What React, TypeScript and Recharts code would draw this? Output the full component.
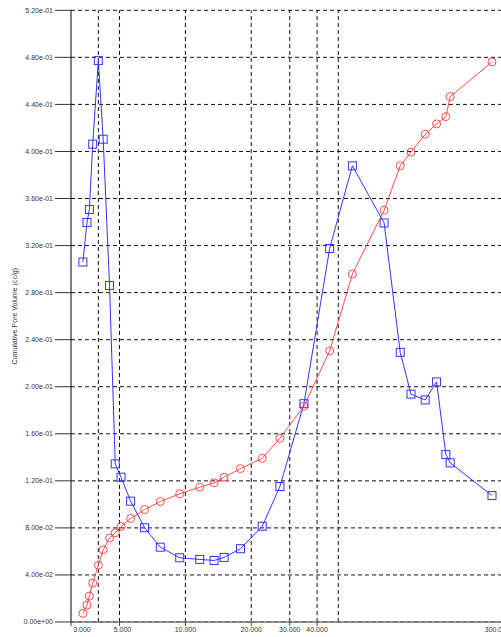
import {
  CartesianGrid,
  Label,
  Line,
  LineChart,
  ReferenceLine,
  XAxis,
  YAxis,
} from "recharts";

// pore diameter (shared by both series)
const diameters = [
  3.4, 3.55, 3.64, 3.77, 4.0, 4.21, 4.5, 4.78, 5.08, 5.62, 6.51, 7.68, 9.42,
  11.63, 13.53, 15.04, 17.86, 22.46, 27.04, 34.83, 45.66, 58.0, 81.0, 95.97,
  107.5, 124.8, 140.7, 155.2, 162.4, 252.1,
];

// blue squares
const incremental = [
  0.306, 0.3396, 0.3507, 0.4062, 0.4772, 0.4104, 0.2861, 0.1344, 0.1231,
  0.1027, 0.0801, 0.0636, 0.0546, 0.0532, 0.0523, 0.0549, 0.0623, 0.0814,
  0.1152, 0.1856, 0.3175, 0.3878, 0.3392, 0.2292, 0.1937, 0.1888, 0.2041,
  0.1423, 0.1353, 0.1075,
];

// red circles
const cumulative = [
  0.0073, 0.0144, 0.022, 0.033, 0.0483, 0.0614, 0.0713, 0.0758, 0.0812,
  0.088, 0.0956, 0.1024, 0.109, 0.1146, 0.1183, 0.1231, 0.1304, 0.1392,
  0.1562, 0.1834, 0.2304, 0.2958, 0.35, 0.3878, 0.3994, 0.4147, 0.4234,
  0.4296, 0.4466, 0.4761,
];

const xTicks = [3, 5, 10, 20, 30, 40, 300];
const xTickLabels = ["3.000", "5.000", "10.000", "20.000", "30.000", "40.000", "300.0"];
const xGridValues = [4, 5, 10, 20, 30, 40, 50];
const yTicks = [0, 0.04, 0.08, 0.12, 0.16, 0.2, 0.24, 0.28, 0.32, 0.36, 0.4, 0.44, 0.48, 0.52];

const xLabelShift = [11, 3, 0, 0, 0, 0, -15];

const data = diameters.map((d, i) => ({
  d,
  blue: incremental[i],
  red: cumulative[i],
}));

const BLUE = "#3434ff";
const RED = "#ff4b4b";

function sci(v: number) {
  if (v === 0) return "0.00e+00";
  const [m, e] = v.toExponential(2).split("e");
  const n = parseInt(e, 10);
  return m + "e" + (n < 0 ? "-" : "+") + String(Math.abs(n)).padStart(2, "0");
}

function XTick(props: any) {
  const { x, y, index } = props;
  return (
    <text
      x={x + (xLabelShift[index] ?? 0)}
      y={y}
      dy="0.71em"
      textAnchor="middle"
      fontSize={7}
      fill="#333"
    >
      {xTickLabels[index]}
    </text>
  );
}

function SquareDot(props: any) {
  const { cx, cy, index } = props;
  return (
    <rect
      key={`sq-${index}`}
      x={cx - 4}
      y={cy - 4}
      width={8}
      height={8}
      fill="none"
      stroke={BLUE}
      strokeWidth={1}
    />
  );
}

function CircleDot(props: any) {
  const { cx, cy, index } = props;
  return (
    <circle
      key={`ci-${index}`}
      cx={cx}
      cy={cy}
      r={4}
      fill="none"
      stroke={RED}
      strokeWidth={1}
    />
  );
}

function YTitle(props: any) {
  const vb = props.viewBox;
  const cx = vb.x + 15;
  const cy = vb.y + vb.height / 2;
  return (
    <text
      x={cx}
      y={cy}
      transform={`rotate(-90 ${cx} ${cy})`}
      textAnchor="middle"
      dominantBaseline="middle"
      fontSize={7}
      fill="#333"
    >
      Cumulative Pore Volume (cc/g)
    </text>
  );
}

export default function App() {
  return (
    <div
      style={{
        position: "fixed",
        left: 0,
        top: 0,
        width: 501,
        height: 637,
        overflow: "hidden",
        background: "#fff",
        fontFamily: "'Liberation Sans', Arial, sans-serif",
      }}
    >
      <LineChart
        width={540}
        height={637}
        data={data}
        margin={{ top: 10.3, right: 31.5, left: 0, bottom: 0 }}
      >
        <CartesianGrid
          vertical={false}
          stroke="#111"
          strokeDasharray="4 3"
        />
        {xGridValues.map((v) => (
          <ReferenceLine
            key={v}
            x={v}
            stroke="#111"
            strokeDasharray="4 3"
          />
        ))}
        <XAxis
          dataKey="d"
          type="number"
          scale="log"
          domain={[3, 300]}
          ticks={xTicks}
          interval={0}
          height={15}
          tickSize={4}
          tickMargin={1.5}
          axisLine={{ stroke: "#777", strokeWidth: 1.5 }}
          tickLine={{ stroke: "#444" }}
          tick={<XTick />}
        />
        <YAxis
          type="number"
          domain={[0, 0.52]}
          ticks={yTicks}
          interval={0}
          width={71}
          tickSize={16}
          tickMargin={2}
          tickFormatter={sci}
          axisLine={{ stroke: "#000" }}
          tickLine={{ stroke: "#333" }}
          tick={{ fontSize: 7, fill: "#333" }}
        >
          <Label content={<YTitle />} />
        </YAxis>
        <Line
          dataKey="red"
          type="linear"
          stroke={RED}
          strokeWidth={1}
          dot={CircleDot}
          isAnimationActive={false}
        />
        <Line
          dataKey="blue"
          type="linear"
          stroke={BLUE}
          strokeWidth={1}
          dot={SquareDot}
          isAnimationActive={false}
        />
      </LineChart>
    </div>
  );
}
